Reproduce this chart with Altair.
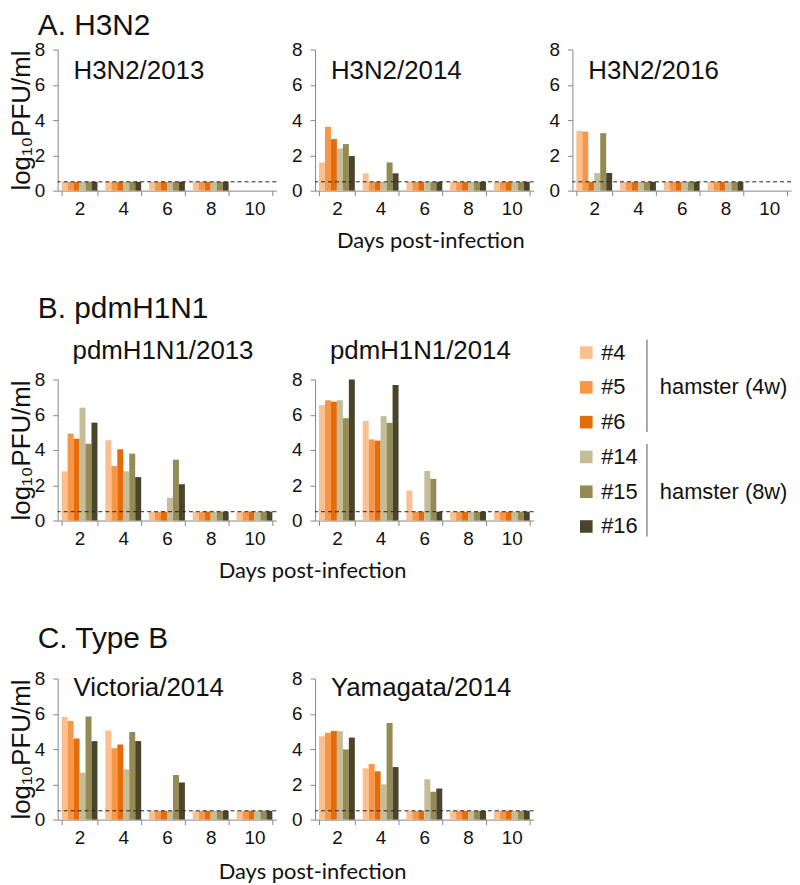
import altair as alt
import pandas as pd

# ---------------- data ----------------
DAYS = [2, 4, 6, 8, 10]
SAMPLES = ["#4", "#5", "#6", "#14", "#15", "#16"]
COLORS = ["#FAC090", "#F79646", "#E46C0A", "#C4BD97", "#948A54", "#4A452A"]
GROUPS = ["hamster (4w)", "hamster (8w)"]
GROUP_FIRST = ["#4", "#14"]
GROUP_LAST = ["#6", "#16"]
GROUP_MID = ["#5", "#15"]
DETECTION_LIMIT = [0.5]
Y_TICKS = [0, 2, 4, 6, 8]

# rows = samples (#4, #5, #6, #14, #15, #16), columns = days 2..10 (None = not measured)
H3N2_2013 = [
    [0.5, 0.5, 0.5, 0.5, None],
    [0.5, 0.5, 0.5, 0.5, None],
    [0.5, 0.5, 0.5, 0.5, None],
    [0.5, 0.5, 0.5, 0.5, None],
    [0.5, 0.5, 0.5, 0.5, None],
    [0.5, 0.5, 0.5, 0.5, None],
]
H3N2_2014 = [
    [1.6, 0.98, 0.5, 0.5, 0.5],
    [3.62, 0.5, 0.5, 0.5, 0.5],
    [2.92, 0.5, 0.5, 0.5, 0.5],
    [2.39, 0.5, 0.5, 0.5, 0.5],
    [2.64, 1.6, 0.5, 0.5, 0.5],
    [1.96, 0.98, 0.5, 0.5, 0.5],
]
H3N2_2016 = [
    [3.39, 0.5, 0.5, 0.5, None],
    [3.35, 0.5, 0.5, 0.5, None],
    [0.5, 0.5, 0.5, 0.5, None],
    [1.0, 0.5, 0.5, 0.5, None],
    [3.26, 0.5, 0.5, 0.5, None],
    [1.0, 0.5, 0.5, 0.5, None],
]
PDM_2013 = [
    [2.79, 4.55, 0.5, 0.5, 0.5],
    [4.93, 3.09, 0.5, 0.5, 0.5],
    [4.64, 4.04, 0.5, 0.5, 0.5],
    [6.4, 2.79, 1.29, 0.5, 0.5],
    [4.36, 3.79, 3.45, 0.5, 0.5],
    [5.55, 2.46, 2.05, 0.5, 0.5],
]
PDM_2014 = [
    [6.55, 5.65, 1.7, 0.5, 0.5],
    [6.82, 4.6, 0.5, 0.5, 0.5],
    [6.74, 4.53, 0.5, 0.5, 0.5],
    [6.82, 5.92, 2.81, 0.5, 0.5],
    [5.8, 5.54, 2.36, 0.5, 0.5],
    [8.0, 7.68, 0.5, 0.5, 0.5],
]
VIC_2014 = [
    [5.82, 5.05, 0.5, 0.5, 0.5],
    [5.59, 4.05, 0.5, 0.5, 0.5],
    [4.6, 4.26, 0.5, 0.5, 0.5],
    [2.66, 2.85, 0.5, 0.5, 0.5],
    [5.85, 4.97, 2.53, 0.5, 0.5],
    [4.45, 4.45, 2.1, 0.5, 0.5],
]
YAM_2014 = [
    [4.73, 2.91, 0.5, 0.5, 0.5],
    [4.93, 3.15, 0.5, 0.5, 0.5],
    [5.03, 2.74, 0.5, 0.5, 0.5],
    [5.01, 2.0, 2.29, 0.5, 0.5],
    [3.98, 5.48, 1.58, 0.5, 0.5],
    [4.65, 2.98, 1.76, 0.5, 0.5],
]

# ---------------- style ----------------
FONT = "Liberation Sans"
XFONT = "Lato"
PW, PH = 220, 142
AXIS_GRAY = "#868686"
COLOR_SCALE = alt.Scale(domain=SAMPLES, range=COLORS)


def long_table(values):
    rows = []
    for s, series in zip(SAMPLES, values):
        for d, v in zip(DAYS, series):
            if v is not None:
                rows.append({"day": d, "sample": s, "value": v})
    return pd.DataFrame(rows)


def x_axis(title_x=None, title_y=None):
    kw = dict(tickBand="extent", labelAngle=0, labelPadding=4, tickSize=5,
              labelFont=FONT, labelFontSize=19, labelColor="#111",
              domainColor=AXIS_GRAY, tickColor=AXIS_GRAY)
    if title_x is None:
        kw["title"] = None
    else:
        kw.update(title="Days post-infection", titleX=title_x, titleY=title_y,
                  titleAlign="center", titleBaseline="alphabetic", titleFont=XFONT,
                  titleFontSize=22, titleFontWeight="normal", titleColor="#111")
    return alt.Axis(**kw)


def y_axis(with_title):
    kw = dict(values=Y_TICKS, tickSize=5, labelPadding=8, grid=False,
              labelFont=FONT, labelFontSize=19, labelColor="#111",
              domainColor=AXIS_GRAY, tickColor=AXIS_GRAY, labelOverlap=False)
    if with_title:
        kw.update(title="log₁₀PFU/ml", titleFont=FONT, titleFontSize=26,
                  titleFontWeight="normal", titlePadding=0, titleColor="#111")
    else:
        kw["title"] = None
    return alt.Axis(**kw)


def panel(values, name, inside, title_offset, y_title=False, xt=None):
    df = long_table(values)
    yscale = alt.Scale(domain=[0, 8])
    bars = alt.Chart(df).mark_bar().encode(
        x=alt.X("day:O", scale=alt.Scale(domain=DAYS, paddingInner=0.18, paddingOuter=0.09),
                axis=x_axis(*(xt or (None, None)))),
        xOffset=alt.XOffset("sample:N", scale=alt.Scale(domain=SAMPLES, paddingInner=0, paddingOuter=0)),
        y=alt.Y("value:Q", scale=yscale, axis=y_axis(y_title)),
        color=alt.Color("sample:N", scale=COLOR_SCALE, legend=None),
    )
    limit = alt.Chart(pd.DataFrame({"limit": DETECTION_LIMIT})).mark_rule(
        color="#222", strokeWidth=1, strokeDash=[4, 3]
    ).encode(y=alt.Y("limit:Q", scale=yscale, axis=y_axis(y_title)))
    if inside:
        title = alt.TitleParams(name, anchor="start", frame="group", offset=title_offset, dx=16,
                                baseline="alphabetic", font=FONT, fontSize=26,
                                fontWeight="normal", color="#111")
    else:
        title = alt.TitleParams(name, anchor="middle", frame="group", offset=title_offset, dx=-4,
                                baseline="alphabetic", font=FONT, fontSize=26,
                                fontWeight="normal", color="#111")
    return alt.layer(bars, limit).properties(width=PW, height=PH, title=title)


def legend_panel():
    lscale = alt.Scale(type="point", domain=SAMPLES, range=[-27, 148], padding=0)
    sdf = pd.DataFrame({"sample": SAMPLES})
    gdf = pd.DataFrame({"group": GROUPS, "first": GROUP_FIRST, "last": GROUP_LAST, "mid": GROUP_MID})
    squares = alt.Chart(sdf).mark_square(size=160, opacity=1).encode(
        x=alt.value(14),
        y=alt.Y("sample:N", scale=lscale, axis=None),
        color=alt.Color("sample:N", scale=COLOR_SCALE, legend=None),
    )
    labels = alt.Chart(sdf).mark_text(align="left", baseline="middle", font=FONT,
                                      fontSize=22, color="#111").encode(
        x=alt.value(29), y=alt.Y("sample:N", scale=lscale, axis=None), text="sample:N")
    brackets = alt.Chart(gdf).mark_rule(color="#8c8c8c", strokeWidth=1.5,
                                        yOffset=-13, y2Offset=10).encode(
        x=alt.value(75), y=alt.Y("first:N", scale=lscale, axis=None), y2="last:N")
    glabels = alt.Chart(gdf).mark_text(align="left", baseline="middle", font=FONT,
                                       fontSize=22, color="#111").encode(
        x=alt.value(88), y=alt.Y("mid:N", scale=lscale, axis=None), text="group:N")
    return alt.layer(squares, labels, brackets, glabels).properties(width=PW, height=PH)


def row_title(text, offset):
    return alt.TitleParams(text, anchor="start", frame="group", offset=offset, dx=-20,
                           baseline="alphabetic", font=FONT, fontSize=30,
                           fontWeight="normal", color="#111")


rowA = alt.hconcat(
    panel(H3N2_2013, "H3N2/2013", True, -64.5, y_title=True),
    panel(H3N2_2014, "H3N2/2014", True, -64.5, xt=(116, 57)),
    panel(H3N2_2016, "H3N2/2016", True, -64.5),
    spacing=39, bounds="flush", title=row_title("A. H3N2", -24.2),
)
rowB = alt.hconcat(
    panel(PDM_2013, "pdmH1N1/2013", False, -14.5, y_title=True, xt=(256, 57)),
    panel(PDM_2014, "pdmH1N1/2014", False, -14.5),
    legend_panel(),
    spacing=39, bounds="flush", title=row_title("B. pdmH1N1", -9.5),
)
rowC = alt.hconcat(
    panel(VIC_2014, "Victoria/2014", True, -52.5, y_title=True, xt=(256, 59)),
    panel(YAM_2014, "Yamagata/2014", True, -52.5),
    spacing=39, bounds="flush", title=row_title("C. Type B", -8.5),
)

chart = alt.vconcat(rowA, rowB, rowC, spacing=43).properties(padding=0).configure_view(stroke=None)

chart.save("out.html", embed_options={"renderer": "svg", "actions": False})
